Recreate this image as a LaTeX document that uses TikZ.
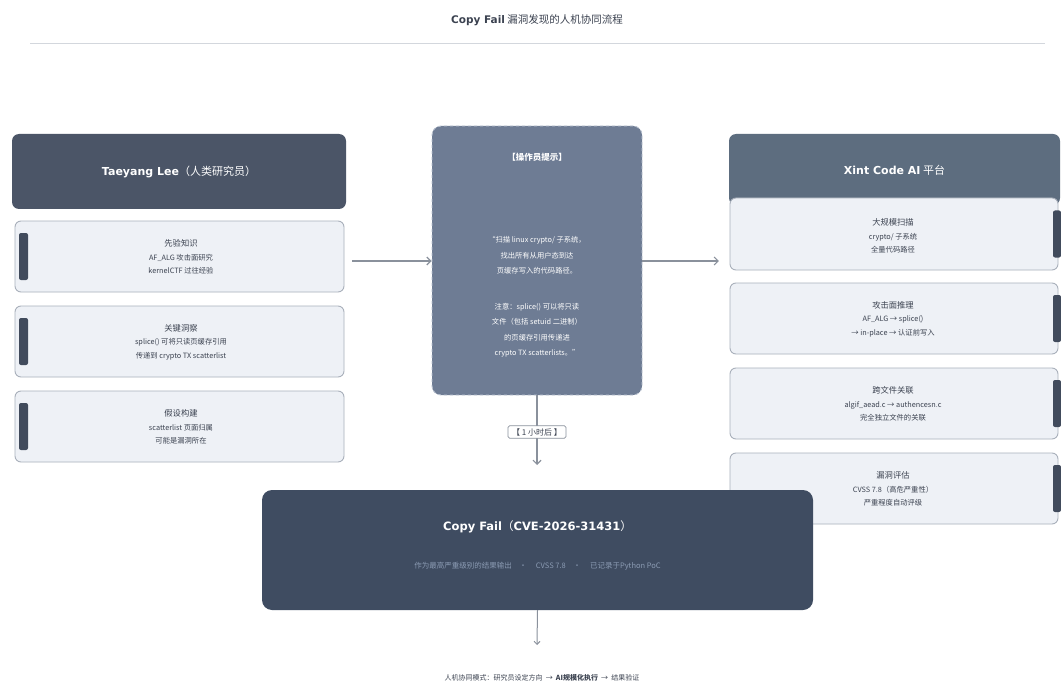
\documentclass[tikz,border=0pt]{standalone}
\usepackage{fontspec}
\setmainfont{Noto Sans CJK SC}
\newfontfamily\dv{DejaVu Sans}
\usetikzlibrary{arrows.meta}
\definecolor{lheadc}{HTML}{4B5567}
\definecolor{boxfill}{HTML}{EEF1F6}
\definecolor{boxline}{HTML}{A9B0BB}
\definecolor{barc}{HTML}{414B5C}
\definecolor{cfill}{HTML}{6E7C94}
\definecolor{cline}{HTML}{B9C2D0}
\definecolor{rheadc}{HTML}{5D6D7F}
\definecolor{bfill}{HTML}{3F4C61}
\definecolor{bsub}{HTML}{8B9BB3}
\definecolor{arrc}{HTML}{8A919C}
\definecolor{txt}{HTML}{3B4250}
\definecolor{rulec}{HTML}{D3D7DD}
\begin{document}
\begin{tikzpicture}[x=1pt,y=-1pt,
  head/.style={rectangle,rounded corners=7pt,inner sep=0pt,text=white,font=\bfseries\fontsize{11}{13}\selectfont},
  card/.style={rectangle,rounded corners=6pt,fill=boxfill,draw=boxline,line width=0.9pt,inner sep=0pt},
  cardtext/.style={align=center,text=txt,font=\fontsize{7.3}{13.5}\selectfont},
  bar/.style={rectangle,rounded corners=2pt,fill=barc,inner sep=0pt,minimum width=9pt,minimum height=47pt},
  arr/.style={draw=arrc,line width=1.1pt,-{Straight Barb[length=4pt,width=8pt]}},
  tag/.style={rectangle,fill=white,draw=arrc,line width=0.8pt,rounded corners=1.5pt,inner xsep=4pt,inner ysep=2.5pt,text=txt,font=\fontsize{8}{9}\selectfont}
]
\useasboundingbox[fill=white] (0,0) rectangle (1061,690);

% title
\node[font=\bfseries\fontsize{10.5}{12}\selectfont,text=txt] (title) at (537,20) {{\dv Copy Fail} {\mdseries 漏洞发现的人机协同流程}};
\draw[rulec,line width=1pt] (30,44) -- (1045,44);

% left column
\node[head,fill=lheadc,minimum width=334pt,minimum height=75pt] (lh) at (179,171.5) {{\dv Taeyang Lee}{\mdseries（人类研究员）}};
\node[card,minimum width=329pt,minimum height=71pt] (lb1) at (179.5,256.5) {};
\node[card,minimum width=329pt,minimum height=71pt] (lb2) at (179.5,341.5) {};
\node[card,minimum width=329pt,minimum height=71pt] (lb3) at (179.5,426.5) {};
\node[bar] (lbar1) at (23.5,256.5) {};
\node[bar] (lbar2) at (23.5,341.5) {};
\node[bar] (lbar3) at (23.5,426.5) {};
\node[cardtext] (lt1) at (181,257) {{\fontsize{8.3}{13.5}\selectfont 先验知识}\\AF\_ALG 攻击面研究\\kernelCTF 过往经验};
\node[cardtext] (lt2) at (181,342) {{\fontsize{8.3}{13.5}\selectfont 关键洞察}\\splice() 可将只读页缓存引用\\传递到 crypto TX scatterlist};
\node[cardtext] (lt3) at (181,427) {{\fontsize{8.3}{13.5}\selectfont 假设构建}\\scatterlist 页面归属\\可能是漏洞所在};

% center prompt box
\node[rectangle,rounded corners=9pt,fill=cfill,draw=cline,dashed,line width=0.9pt,minimum width=210pt,minimum height=269pt,inner sep=0pt] (cbox) at (537,260.5) {};
\node[text=white,font=\bfseries\fontsize{8.5}{10}\selectfont] (ctitle) at (537,157) {【操作员提示】};
\node[text=white,align=center,font=\fontsize{7.3}{15.5}\selectfont] (ctext) at (537,297) {“扫描 linux crypto/ 子系统，\\找出所有从用户态到达\\页缓存写入的代码路径。\\[20pt]注意：splice() 可以将只读\\文件（包括 setuid 二进制）\\的页缓存引用传递进\\crypto TX scatterlists。”};

% right column
\node[head,fill=rheadc,minimum width=331pt,minimum height=71pt] (rh) at (894.5,169.5) {};
\node[card,minimum width=328pt,minimum height=72pt] (rb1) at (894,234) {};
\node[text=white,font=\bfseries\fontsize{11}{13}\selectfont] (rht) at (894.5,170) {{\dv Xint Code AI} {\mdseries 平台}};
\node[card,minimum width=328pt,minimum height=71pt] (rb2) at (894,318.5) {};
\node[card,minimum width=328pt,minimum height=71pt] (rb3) at (894,403.5) {};
\node[card,minimum width=328pt,minimum height=71pt] (rb4) at (894,488.5) {};
\node[bar,minimum width=8pt] (rbar1) at (1057,234) {};
\node[bar,minimum width=8pt] (rbar2) at (1057,318.5) {};
\node[bar,minimum width=8pt] (rbar3) at (1057,403.5) {};
\node[bar,minimum width=8pt] (rbar4) at (1057,488.5) {};
\node[cardtext] (rt1) at (893,236) {{\fontsize{8.3}{13.5}\selectfont 大规模扫描}\\crypto/ 子系统\\全量代码路径};
\node[cardtext] (rt2) at (893,319) {{\fontsize{8.3}{13.5}\selectfont 攻击面推理}\\AF\_ALG → splice()\\→ in-place → 认证前写入};
\node[cardtext] (rt3) at (893,404) {{\fontsize{8.3}{13.5}\selectfont 跨文件关联}\\algif\_aead.c → authencesn.c\\完全独立文件的关联};
\node[cardtext] (rt4) at (893,489) {{\fontsize{8.3}{13.5}\selectfont 漏洞评估}\\CVSS 7.8（高危严重性）\\严重程度自动评级};

% bottom result box
\node[rectangle,rounded corners=10pt,fill=bfill,minimum width=551pt,minimum height=120pt,inner sep=0pt] (bbox) at (537.5,550) {};
\node[text=white,font=\bfseries\fontsize{11.5}{13}\selectfont] (btitle) at (537.5,527) {{\dv Copy Fail}{\mdseries（}{\dv CVE-2026-31431}{\mdseries）}};
\node[text=bsub,font=\fontsize{7.5}{9}\selectfont] (bsubt) at (537.5,566) {作为最高严重级别的结果输出\quad · \quad CVSS 7.8\quad · \quad 已记录于Python PoC};

% connectors
\draw[arr] ([xshift=8pt,yshift=-4.5pt]lb1.east) -- ([yshift=-4.5pt]cbox.west |- lb1.east);
\draw[arr] ([yshift=-4.5pt]cbox.east |- lb1.east) -- ([xshift=-10pt,yshift=-4.5pt]rh.west |- lb1.east);
\coordinate (vend) at (537,465);
\draw[arr] (cbox.south) -- (vend);
\node[tag] (later) at (537,432) {【\ 1\ 小时后\ 】};
\coordinate (fend) at (537,645);
\draw[draw=arrc,line width=1pt,-{Straight Barb[length=3pt,width=6pt]}] (bbox.south) -- (fend);
\node[text=txt,font=\fontsize{7}{9}\selectfont] (foot) at (542,678) {人机协同模式：研究员设定方向 \ → \ {\bfseries AI规模化执行} \ → \ 结果验证};
\end{tikzpicture}
\end{document}
